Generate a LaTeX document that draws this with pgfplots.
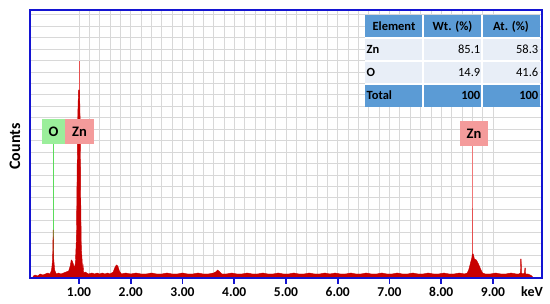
\documentclass[border=0pt]{standalone}
\usepackage{pgfplots}
\pgfplotsset{compat=1.18}
\usepackage{fontspec}
\setmainfont{Carlito}
\definecolor{axisblue}{RGB}{20,20,210}
\definecolor{gridgray}{RGB}{216,216,216}
\definecolor{specred}{RGB}{200,0,0}
\definecolor{lightred}{RGB}{230,80,80}
\definecolor{pinkred}{RGB}{240,120,120}
\definecolor{ogreen}{RGB}{155,238,155}
\definecolor{oline}{RGB}{90,220,90}
\definecolor{znpink}{RGB}{244,155,155}
\definecolor{tblue}{RGB}{91,155,213}
\definecolor{tlight}{RGB}{232,238,247}
\begin{document}
\begin{tikzpicture}
\useasboundingbox (-30pt,-26pt) rectangle (520pt,278pt);
\begin{axis}[
  at={(0pt,0pt)}, anchor=south west,
  scale only axis, width=512pt, height=268pt,
  xmin=0.053, xmax=9.947, ymin=0, ymax=268,
  axis line style={draw=none},
  xtick={1,2,3,4,5,6,7,8,9},
  xticklabels={1.00,2.00,3.00,4.00,5.00,6.00,7.00,8.00,9.00},
  minor x tick num=4,
  ytick={11.45,22.9,...,266},
  yticklabels={},
  yticklabel style={text opacity=0},
  grid=both,
  major grid style={gridgray, line width=0.7pt},
  minor grid style={gridgray, line width=0.7pt},
  tick align=outside,
  x tick style={axisblue, line width=1.6pt},
  y tick style={draw=none},
  major tick length=6pt, minor tick length=0pt,
  xtick pos=bottom,
  xticklabel style={font=\bfseries\fontsize{13.5}{13.5}\selectfont, text=black},
  /pgf/number format/assume math mode=true,
  clip=false,
]
% marker lines
\addplot[color=oline, line width=1pt] coordinates {(0.507,0) (0.507,134)};
\addplot[color=pinkred, line width=1.3pt] coordinates {(8.61,0) (8.61,132)};
\addplot[color=lightred, line width=1pt] coordinates {(1.0,150) (1.0,217)};
\addplot[color=lightred, line width=1pt] coordinates {(8.605,0) (8.605,70)};
% spectrum
\addplot[fill=specred, draw=specred, line width=0.4pt] coordinates {
(0.10,0) (0.12,2) (0.15,3) (0.20,2) (0.25,4) (0.30,3) (0.35,4) (0.40,5) (0.44,4)
(0.47,8) (0.49,19) (0.500,48) (0.510,20) (0.53,8) (0.56,4) (0.60,5) (0.65,4)
(0.70,5) (0.75,6) (0.80,7) (0.83,12) (0.85,18) (0.87,17) (0.89,14) (0.91,10)
(0.93,15) (0.95,40) (0.96,90) (0.975,160) (0.99,188) (1.01,188) (1.025,150)
(1.035,70) (1.045,30) (1.06,18) (1.07,8) (1.08,12) (1.09,5) (1.12,6) (1.18,4)
(1.25,5) (1.30,4) (1.35,5) (1.40,4) (1.45,5) (1.50,4) (1.55,5) (1.60,4)
(1.66,6) (1.69,10) (1.72,13) (1.75,12) (1.78,7) (1.82,4) (1.90,5) (2.00,4)
(2.10,5) (2.20,4) (2.30,4) (2.40,5) (2.50,4) (2.60,4) (2.70,5) (2.80,4)
(2.90,4) (3.00,5) (3.10,4) (3.20,4) (3.30,5) (3.40,4) (3.50,4) (3.60,5)
(3.64,6) (3.68,8) (3.72,6) (3.76,4) (3.85,4) (3.95,5) (4.05,4) (4.15,4)
(4.25,5) (4.35,4) (4.45,4) (4.55,5) (4.65,4) (4.75,4) (4.85,5) (4.95,4)
(5.05,4) (5.15,5) (5.25,4) (5.35,4) (5.45,5) (5.55,4) (5.65,4) (5.75,5)
(5.85,4) (5.95,5) (6.05,4) (6.15,4) (6.25,5) (6.35,4) (6.45,4) (6.55,5)
(6.65,4) (6.75,4) (6.85,5) (6.95,4) (7.05,4) (7.15,5) (7.25,4) (7.35,4)
(7.45,5) (7.55,4) (7.65,4) (7.75,5) (7.85,4) (7.95,4) (8.05,5) (8.15,4)
(8.25,4) (8.35,5) (8.45,4) (8.50,5) (8.53,8) (8.56,14) (8.59,20) (8.60,24)
(8.62,24) (8.64,19) (8.68,18) (8.72,14) (8.76,9) (8.80,5) (8.85,4) (8.95,4)
(9.05,5) (9.15,4) (9.25,4) (9.35,5) (9.45,4) (9.50,4) (9.53,5) (9.535,19)
(9.545,19) (9.55,5) (9.58,4) (9.61,5) (9.615,10) (9.625,10) (9.63,4)
(9.68,4) (9.72,3) (9.75,2) (9.78,0)
} \closedcycle;
\draw[axisblue, line width=2pt] (rel axis cs:0,0) rectangle (rel axis cs:1,1);
% element labels
\node[fill=ogreen, minimum width=23pt, minimum height=25pt, inner sep=0pt,
  font=\bfseries\fontsize{14.5}{14.5}\selectfont] at (axis cs:0.507,146.5) {O};
\node[fill=znpink, minimum width=29pt, minimum height=25pt, inner sep=0pt,
  font=\bfseries\fontsize{14.5}{14.5}\selectfont] at (axis cs:1.010,146.5) {Zn};
\node[fill=znpink, minimum width=28pt, minimum height=25pt, inner sep=0pt,
  font=\bfseries\fontsize{14.5}{14.5}\selectfont] at (axis cs:8.633,144.5) {Zn};
\end{axis}
% axis titles
\node[rotate=90, font=\bfseries\fontsize{16}{16}\selectfont] at (-15pt,131.5pt) {Counts};
\node[font=\bfseries\fontsize{14}{14}\selectfont] at (502pt,-14pt) {keV};
% table
\fill[tblue] (335pt,240pt) rectangle (510pt,263pt);
\fill[tlight] (335pt,194pt) rectangle (510pt,240pt);
\fill[tblue] (335pt,171pt) rectangle (510pt,194pt);
\draw[white, line width=1.2pt] (335pt,240pt) -- (510pt,240pt);
\draw[white, line width=1.2pt] (335pt,217pt) -- (510pt,217pt);
\draw[white, line width=1.2pt] (335pt,194pt) -- (510pt,194pt);
\draw[white, line width=1.2pt] (393pt,171pt) -- (393pt,263pt);
\draw[white, line width=1.2pt] (452pt,171pt) -- (452pt,263pt);
\begin{scope}[every node/.style={font=\fontsize{12.5}{12.5}\selectfont, inner sep=1.5pt}]
\node[font=\bfseries\fontsize{12.5}{12.5}\selectfont] at (364pt,251.5pt) {Element};
\node[font=\bfseries\fontsize{12.5}{12.5}\selectfont] at (422.5pt,251.5pt) {Wt. (\%)};
\node[font=\bfseries\fontsize{12.5}{12.5}\selectfont] at (481pt,251.5pt) {At. (\%)};
\node[anchor=west, font=\bfseries\fontsize{12.5}{12.5}\selectfont] at (335pt,228.5pt) {Zn};
\node[anchor=west, font=\bfseries\fontsize{12.5}{12.5}\selectfont] at (335pt,205.5pt) {O};
\node[anchor=west, font=\bfseries\fontsize{12.5}{12.5}\selectfont] at (335pt,182.5pt) {Total};
\node[anchor=east] at (452pt,228.5pt) {85.1};
\node[anchor=east] at (510pt,228.5pt) {58.3};
\node[anchor=east] at (452pt,205.5pt) {14.9};
\node[anchor=east] at (510pt,205.5pt) {41.6};
\node[anchor=east, font=\bfseries\fontsize{12.5}{12.5}\selectfont] at (452pt,182.5pt) {100};
\node[anchor=east, font=\bfseries\fontsize{12.5}{12.5}\selectfont] at (510pt,182.5pt) {100};
\end{scope}
\end{tikzpicture}
\end{document}
